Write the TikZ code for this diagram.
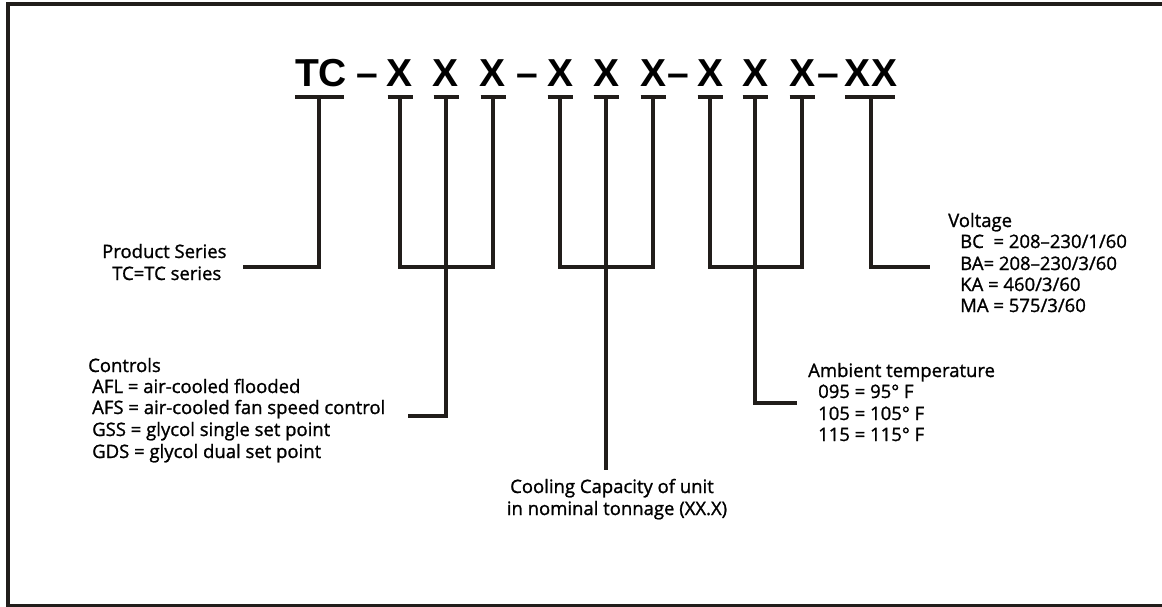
\documentclass[tikz,border=0pt]{standalone}
\usepackage{fontspec}
\setmainfont{Open Sans}[FakeBold=1.2]
\newfontfamily\codefont{Liberation Sans}
\definecolor{ink}{HTML}{211D1A}

\begin{document}
\begin{tikzpicture}[x=1pt, y=-1pt,
  wire/.style={line width=4pt, draw=ink},
  code/.style={font=\codefont\bfseries\fontsize{39}{39}\selectfont, anchor=base, inner sep=0pt},
  info/.style={font=\fontsize{18.5}{21}\selectfont, anchor=base west, inner sep=0pt}]

\useasboundingbox (0,0) rectangle (1162,607);

% --- Frame ---
\draw[wire] (1164,4.5) -- (7.5,4.5) -- (7.5,605.5) -- (1164,605.5);

% --- Model code ---
\node[code] (tc) at (321,87) {TC};
\node[code] (d1) at (367,87) {–};
\node[code] (d2) at (527,87) {–};
\node[code] (d3) at (678,87) {–};
\node[code] (d4) at (828,87) {–};
\foreach \i/\x in {1/400, 2/446, 3/493, 4/560, 5/606, 6/653, 7/710, 8/755, 9/802} {
  \node[code] (x\i) at (\x,87) {X};
  \coordinate (t\i) at (\x,97);
  \draw[wire] (\x-12.5,97) -- (\x+12.5,97);
}
\node[code] (xx) at (871,87) {XX};
\coordinate (ttc) at (319,97);
\coordinate (txx) at (871,97);
\draw[wire] (295,97) -- (344,97);
\draw[wire] (845,97) -- (895,97);

% --- Leader lines ---
\coordinate (ps) at (243,267);
\coordinate (ctl) at (408,416);
\coordinate (cap) at (606,470);
\coordinate (amb) at (797,403);
\coordinate (vlt) at (930,267);

\draw[wire] (ttc) -- (ttc |- ps) -- (ps);
\draw[wire] (t1) -- (t1 |- ps) -- (t3 |- ps) -- (t3);
\draw[wire] (t2) -- (t2 |- ctl) -- (ctl);
\draw[wire] (t4) -- (t4 |- ps) -- (t6 |- ps) -- (t6);
\draw[wire] (t5) -- (cap);
\draw[wire] (t7) -- (t7 |- ps) -- (t9 |- ps) -- (t9);
\draw[wire] (t8) -- (t8 |- amb) -- (amb);
\draw[wire] (txx) -- (txx |- vlt) -- (vlt);

% --- Product series ---
\node[info] (ps1) at (102,258) {Product Series};
\node[info] (ps2) at (112,280) {TC=TC series};

% --- Controls ---
\node[info] (ct0) at (88,372) {Controls};
\node[info] (ct1) at (92,393) {AFL = air-cooled flooded};
\node[info] (ct2) at (92,414) {AFS = air-cooled fan speed control};
\node[info] (ct3) at (92,436) {GSS = glycol single set point};
\node[info] (ct4) at (92,458) {GDS = glycol dual set point};

% --- Cooling capacity ---
\node[info, anchor=base] (cc1) at (612,493) {Cooling Capacity of unit};
\node[info, anchor=base] (cc2) at (617,515) {in nominal tonnage (XX.X)};

% --- Ambient temperature ---
\node[info] (at0) at (808,377) {Ambient temperature};
\node[info] (at1) at (818,398) {095 = 95° F};
\node[info] (at2) at (818,420) {105 = 105° F};
\node[info] (at3) at (818,441) {115 = 115° F};

% --- Voltage ---
\node[info] (vo0) at (948,227) {Voltage};
\node[info] (vo1) at (960,248) {BC\ \ = 208–230/1/60};
\node[info] (vo2) at (960,270) {BA= 208–230/3/60};
\node[info] (vo3) at (960,291) {KA = 460/3/60};
\node[info] (vo4) at (960,312) {MA = 575/3/60};

\end{tikzpicture}
\end{document}
